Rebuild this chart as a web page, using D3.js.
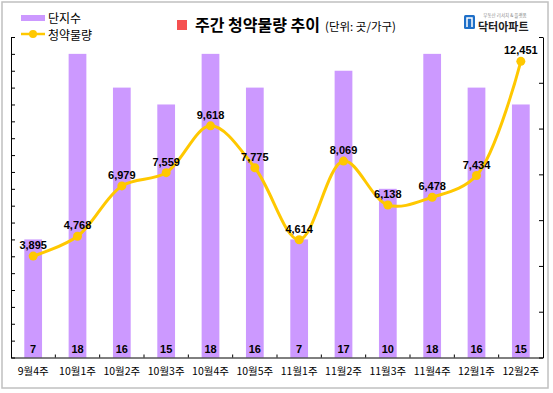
<!DOCTYPE html>
<html>
<head>
<meta charset="utf-8">
<script src="https://cdn.jsdelivr.net/npm/d3@7"></script>
<style>
  body { margin: 0; background: #fff; }
  text { font-family: "Noto Sans CJK KR", sans-serif; }
  .num { font-family: "Liberation Sans", Arial, sans-serif; font-weight: bold; font-size: 11px; fill: #000; }
</style>
</head>
<body>
<div id="chart"></div>
<script>
const weeks = ["9월4주", "10월1주", "10월2주", "10월3주", "10월4주", "10월5주",
               "11월1주", "11월2주", "11월3주", "11월4주", "12월1주", "12월2주"];
const complexCounts = [7, 18, 16, 15, 18, 16, 7, 17, 10, 18, 16, 15];
const supply = [3895, 4768, 6979, 7559, 9618, 7775, 4614, 8069, 6138, 6478, 7434, 12451];

const width = 553;
const height = 393;
const plot = { left: 11, right: 543, top: 37, bottom: 357.5 };

const barColor = "#CC99FF";
const lineColor = "#FFC800";

const svg = d3.select("#chart").append("svg")
    .attr("width", width)
    .attr("height", height);

// outer frame
svg.append("rect")
    .attr("x", 2).attr("y", 2)
    .attr("width", 546).attr("height", 386)
    .attr("fill", "#fff")
    .attr("stroke", "#C0C0C0")
    .attr("stroke-width", 1.5);

const x = d3.scaleBand()
    .domain(weeks)
    .range([plot.left, plot.right])
    .paddingInner(0.6)
    .paddingOuter(0.3);

const yBar = d3.scaleLinear()
    .domain([0, 19])
    .range([plot.bottom, plot.top]);

const yLine = d3.scaleLinear()
    .domain([-560, 13520])
    .range([plot.bottom, plot.top]);

// bars
svg.append("g")
    .selectAll("rect")
    .data(complexCounts)
    .enter()
    .append("rect")
    .attr("x", (d, i) => x(weeks[i]))
    .attr("y", d => yBar(d))
    .attr("width", x.bandwidth())
    .attr("height", d => yBar(0) - yBar(d))
    .attr("fill", barColor);

svg.append("g")
    .selectAll("text")
    .data(complexCounts)
    .enter()
    .append("text")
    .attr("class", "num")
    .attr("x", (d, i) => x(weeks[i]) + x.bandwidth() / 2)
    .attr("y", plot.bottom - 5)
    .attr("text-anchor", "middle")
    .text(d => d);

// axes
const leftAxis = d3.axisRight(yBar).ticks(19).tickSize(4).tickSizeOuter(0).tickFormat("");
svg.append("g")
    .attr("transform", `translate(${plot.left},0)`)
    .call(leftAxis)
    .call(g => g.selectAll("line, path").attr("stroke", "#000"));

const rightTicks = d3.range(8).map(i => yLine.domain()[0] + i * (yLine.domain()[1] - yLine.domain()[0]) / 7);
const rightAxis = d3.axisLeft(yLine).tickValues(rightTicks).tickSize(4).tickSizeOuter(0).tickFormat("");
svg.append("g")
    .attr("transform", `translate(${plot.right},0)`)
    .call(rightAxis)
    .call(g => g.selectAll("line, path").attr("stroke", "#000"));

const bottomAxis = d3.axisBottom(x).tickSize(0).tickSizeOuter(0);
svg.append("g")
    .attr("transform", `translate(0,${plot.bottom})`)
    .call(bottomAxis)
    .call(g => g.select("path").attr("stroke", "#000"))
    .call(g => g.selectAll("text")
        .attr("dy", 0)
        .attr("y", 17)
        .attr("font-size", "10.5px")
        .attr("font-family", "Noto Sans CJK KR")
        .attr("fill", "#000"));

// tick marks between categories
const step = x.step();
svg.append("g")
    .selectAll("line")
    .data(weeks.slice(1))
    .enter()
    .append("line")
    .attr("x1", d => x(d) - step * x.paddingInner() / 2)
    .attr("x2", d => x(d) - step * x.paddingInner() / 2)
    .attr("y1", plot.bottom)
    .attr("y2", plot.bottom - 3)
    .attr("stroke", "#000");

// line
const cx = i => x(weeks[i]) + x.bandwidth() / 2;
const line = d3.line()
    .x((d, i) => cx(i))
    .y(d => yLine(d))
    .curve(d3.curveCatmullRom);

svg.append("path")
    .datum(supply)
    .attr("d", line)
    .attr("fill", "none")
    .attr("stroke", lineColor)
    .attr("stroke-width", 3);

svg.append("g")
    .selectAll("circle")
    .data(supply)
    .enter()
    .append("circle")
    .attr("cx", (d, i) => cx(i))
    .attr("cy", d => yLine(d))
    .attr("r", 4.5)
    .attr("fill", lineColor);

svg.append("g")
    .selectAll("text")
    .data(supply)
    .enter()
    .append("text")
    .attr("class", "num")
    .attr("x", (d, i) => cx(i))
    .attr("y", d => yLine(d) - 7)
    .attr("text-anchor", "middle")
    .text(d => d3.format(",")(d));

// legend
const legend = svg.append("g");
legend.append("rect")
    .attr("x", 21).attr("y", 15)
    .attr("width", 24).attr("height", 6)
    .attr("fill", barColor);
legend.append("text")
    .attr("x", 48).attr("y", 23)
    .attr("font-size", "12px")
    .text("단지수");
legend.append("line")
    .attr("x1", 21).attr("x2", 45)
    .attr("y1", 34).attr("y2", 34)
    .attr("stroke", lineColor)
    .attr("stroke-width", 2.5);
legend.append("circle")
    .attr("cx", 33).attr("cy", 34).attr("r", 4)
    .attr("fill", lineColor);
legend.append("text")
    .attr("x", 48).attr("y", 40)
    .attr("font-size", "12px")
    .text("청약물량");

// title
svg.append("rect")
    .attr("x", 177).attr("y", 20)
    .attr("width", 10).attr("height", 10)
    .attr("fill", "#F55050");
const title = svg.append("text")
    .attr("x", 195).attr("y", 31);
title.append("tspan")
    .attr("font-size", "16px")
    .attr("font-weight", "bold")
    .text("주간 청약물량 추이");
title.append("tspan")
    .attr("font-size", "11.5px")
    .attr("dx", 5)
    .text("(단위: 곳/가구)");

// logo
const logo = svg.append("g");
logo.append("rect")
    .attr("x", 464).attr("y", 15)
    .attr("width", 11).attr("height", 14)
    .attr("rx", 1.5)
    .attr("fill", "#1E6FC8");
logo.append("path")
    .attr("d", "M467,27 L467,18 L472,18 L472,27")
    .attr("fill", "none")
    .attr("stroke", "#fff")
    .attr("stroke-width", 1.5);
logo.append("text")
    .attr("x", 505).attr("y", 17)
    .attr("text-anchor", "middle")
    .attr("font-size", "4.5px")
    .attr("fill", "#888")
    .text("부동산 리서치 & 플랫폼");
logo.append("text")
    .attr("x", 478).attr("y", 30.5)
    .attr("font-size", "11px")
    .attr("font-weight", "bold")
    .attr("fill", "#222")
    .text("닥터아파트");
</script>
</body>
</html>
